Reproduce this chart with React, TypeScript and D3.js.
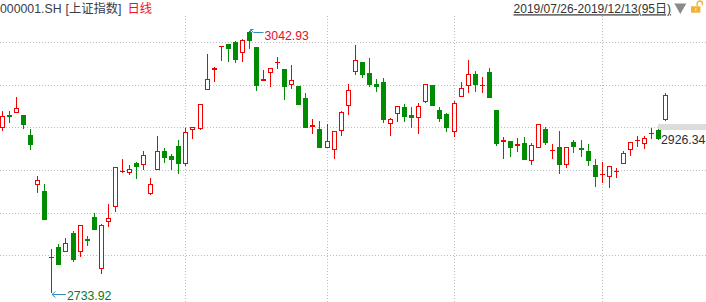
import React from "react";
import * as d3 from "d3";

const dates: string[] = [
  "2019-07-26","2019-07-29","2019-07-30","2019-07-31","2019-08-01","2019-08-02",
  "2019-08-05","2019-08-06","2019-08-07","2019-08-08","2019-08-09",
  "2019-08-12","2019-08-13","2019-08-14","2019-08-15","2019-08-16",
  "2019-08-19","2019-08-20","2019-08-21","2019-08-22","2019-08-23",
  "2019-08-26","2019-08-27","2019-08-28","2019-08-29","2019-08-30",
  "2019-09-02","2019-09-03","2019-09-04","2019-09-05","2019-09-06",
  "2019-09-09","2019-09-10","2019-09-11","2019-09-12",
  "2019-09-16","2019-09-17","2019-09-18","2019-09-19","2019-09-20",
  "2019-09-23","2019-09-24","2019-09-25","2019-09-26","2019-09-27",
  "2019-09-30",
  "2019-10-08","2019-10-09","2019-10-10","2019-10-11",
  "2019-10-14","2019-10-15","2019-10-16","2019-10-17","2019-10-18",
  "2019-10-21","2019-10-22","2019-10-23","2019-10-24","2019-10-25",
  "2019-10-28","2019-10-29","2019-10-30","2019-10-31",
  "2019-11-01",
  "2019-11-04","2019-11-05","2019-11-06","2019-11-07","2019-11-08",
  "2019-11-11","2019-11-12","2019-11-13","2019-11-14","2019-11-15",
  "2019-11-18","2019-11-19","2019-11-20","2019-11-21","2019-11-22",
  "2019-11-25","2019-11-26","2019-11-27","2019-11-28","2019-11-29",
  "2019-12-02","2019-12-03","2019-12-04","2019-12-05","2019-12-06",
  "2019-12-09","2019-12-10","2019-12-11","2019-12-12","2019-12-13",
];

const opens: number[] = [
  2928.0,2943.7,2946.5,2943.7,2920.1,2860.7,2854.0,2775.5,2787.9,2782.4,
  2804.4,2781.6,2797.3,2823.3,2761.5,2817.0,2834.7,2877.6,2874.9,2886.7,
  2885.1,2850.8,2879.2,2901.2,2895.3,2907.1,2886.3,2926.4,2927.6,2972.9,
  2997.3,3024.6,3027.6,3029.9,3017.3,3042.1,3024.0,2984.3,2993.7,3005.6,
  2998.1,2979.6,2978.0,2963.8,2930.0,2927.2,2905.2,2902.0,2924.5,2954.8,
  2994.9,3006.3,2993.3,2980.3,2982.7,2933.5,2945.3,2952.8,2943.7,2940.6,
  2959.5,2979.2,2949.6,2944.9,2924.1,2965.4,2978.4,2992.2,2978.5,2994.5,
  2949.6,2912.3,2913.0,2907.5,2910.7,2889.0,2904.4,2927.2,2902.1,2906.0,
  2885.1,2911.9,2904.8,2901.2,2884.7,2874.3,2870.1,2877.0,2886.3,2902.0,
  2914.4,2909.1,2922.3,2926.34,2938.3,
];
const highs: number[] = [
  2948.5,2948.5,2965.0,2943.7,2927.2,2871.7,2862.3,2785.1,2791.4,2798.5,
  2806.8,2813.5,2800.9,2828.0,2815.0,2838.6,2881.9,2891.8,2884.3,2887.9,
  2900.8,2869.0,2918.9,2904.8,2897.3,2914.2,2928.8,2929.2,2956.3,3015.8,
  3000.4,3025.8,3027.6,3031.1,3033.1,3042.93,3024.0,2996.9,2999.2,3012.2,
  2998.1,3002.8,2978.0,2969.7,2939.0,2936.7,2933.1,2924.5,2948.9,2979.9,
  3026.4,3006.3,3011.0,2985.9,2987.4,2939.8,2954.0,2956.7,2953.2,2957.9,
  2979.9,2979.2,2953.2,2946.1,2960.7,2982.7,3008.3,2995.7,2988.6,2999.2,
  2949.6,2917.8,2913.0,2916.6,2917.8,2910.3,2932.7,2929.6,2909.5,2924.9,
  2906.0,2914.2,2914.2,2909.5,2891.8,2888.2,2883.1,2881.2,2901.2,2911.5,
  2918.9,2918.9,2928.4,2927.2,2969.7,
];
const lows: number[] = [
  2925.3,2934.7,2946.5,2927.6,2902.4,2852.0,2819.8,2733.92,2766.6,2782.4,
  2770.6,2776.5,2789.5,2808.3,2756.0,2811.9,2829.2,2875.6,2873.3,2868.6,
  2878.8,2849.7,2879.2,2887.5,2878.8,2874.1,2883.5,2915.4,2926.4,2972.9,
  2982.7,3007.9,3006.3,3005.5,3006.7,3022.1,2972.5,2984.3,2977.2,2998.5,
  2961.8,2974.4,2955.9,2928.8,2921.7,2905.2,2905.2,2892.2,2919.4,2944.1,
  2991.0,2987.8,2977.2,2971.3,2934.7,2918.9,2935.5,2935.5,2928.4,2921.7,
  2958.3,2954.8,2935.5,2923.7,2918.1,2965.4,2970.1,2971.3,2970.1,2964.2,
  2907.5,2892.2,2894.5,2900.4,2891.0,2885.1,2904.4,2908.7,2892.2,2874.5,
  2881.6,2899.3,2894.5,2883.9,2859.1,2863.0,2857.9,2869.7,2886.3,2895.7,
  2906.0,2903.6,2915.4,2914.2,2937.1,
];
const closes: number[] = [
  2942.9,2941.0,2951.6,2932.3,2908.3,2866.6,2819.8,2776.3,2766.6,2792.2,
  2772.9,2813.5,2795.0,2808.3,2813.5,2821.7,2881.9,2878.2,2879.6,2882.7,
  2896.1,2861.9,2900.8,2893.4,2891.0,2885.9,2923.3,2929.2,2956.3,2985.9,
  2998.8,3025.2,3022.1,3009.1,3031.9,3031.5,2978.3,2985.9,2999.2,3006.1,
  2977.2,2984.7,2955.9,2928.8,2931.5,2905.2,2912.6,2924.5,2946.9,2972.9,
  3008.3,2991.0,2979.2,2977.2,2937.8,2938.6,2954.0,2941.4,2940.6,2954.0,
  2979.9,2954.8,2939.0,2928.4,2957.5,2975.2,2991.8,2979.6,2978.9,2964.2,
  2909.9,2914.2,2905.2,2909.5,2891.0,2907.9,2932.7,2911.1,2902.5,2885.1,
  2906.0,2906.3,2902.8,2889.4,2870.9,2874.6,2883.1,2877.3,2898.5,2911.5,
  2914.7,2916.6,2922.6,2915.8,2967.0,
];

const gridPrices: number[] = [3029.6, 2979.3, 2929.0, 2878.7, 2828.4, 2778.1];
const monthStarts: string[] = ["2019-09-02", "2019-10-08", "2019-11-01", "2019-12-02"];
const markPrice = 2926.34;
const titleCode = "000001.SH";
const titleName = "[上证指数]";
const titlePeriod = "日线";
const rangeLabel = "2019/07/26-2019/12/13(95日)";

const W = 706;
const H = 302;
const RED = "#f40000";
const GREEN = "#008c00";
const FONT = "'Liberation Sans', Arial, 'Noto Sans CJK SC', sans-serif";

export default function App() {
  const x = d3.scaleLinear().domain([0, dates.length - 1]).range([2, 665.2]);
  const y = d3.scaleLinear().domain([2733.92, 3042.93]).range([292.7, 31]);
  const cxOf = (i: number) => Math.round(x(i)) + 0.5;

  const hiIdx = d3.maxIndex(highs);
  const loIdx = d3.minIndex(lows);
  const fmt = d3.format(".2f");

  const candles = dates.map((d, i) => {
    const o = opens[i], c = closes[i], h = highs[i], l = lows[i];
    const up = c >= o;
    const color = up ? RED : GREEN;
    const cx = cxOf(i);
    const top = Math.round(y(Math.max(o, c)));
    const bot = Math.round(y(Math.min(o, c)));
    const yh = Math.round(y(h));
    const yl = Math.round(y(l));
    const els: React.ReactNode[] = [];
    if (yh < top) els.push(<line key="uw" x1={cx} x2={cx} y1={yh} y2={top} stroke={color} strokeWidth={1} />);
    if (yl > bot) els.push(<line key="lw" x1={cx} x2={cx} y1={bot} y2={yl} stroke={color} strokeWidth={1} />);
    if (bot - top <= 1) {
      els.push(<rect key="b" x={cx - 2.5} y={top} width={5} height={Math.max(1, bot - top)} fill={color} />);
    } else if (up) {
      els.push(<rect key="b" x={cx - 2} y={top + 0.5} width={4} height={bot - top - 1} fill="#fff" stroke={color} strokeWidth={1} />);
    } else {
      els.push(<rect key="b" x={cx - 2.5} y={top} width={5} height={bot - top} fill={color} />);
    }
    return <g key={d}>{els}</g>;
  });

  const hiX = cxOf(hiIdx);
  const hiY = Math.round(y(highs[hiIdx]));
  const loX = cxOf(loIdx);
  const loY = Math.round(y(lows[loIdx]));
  const markY = Math.round(y(markPrice));

  return (
    <svg
      width={W}
      height={H}
      style={{ position: "absolute", left: 0, top: 0, display: "block", background: "#fff" }}
      fontFamily={FONT}
    >
      <rect x={0} y={0} width={W} height={H} fill="#fff" />
      {gridPrices.map((p) => (
        <line key={p} x1={0} x2={W} y1={Math.round(y(p)) + 0.5} y2={Math.round(y(p)) + 0.5}
          stroke="#bdbdbd" strokeWidth={1} strokeDasharray="1,2" />
      ))}
      {monthStarts.map((m) => {
        const cx = cxOf(dates.indexOf(m));
        return <line key={m} x1={cx} x2={cx} y1={16} y2={H} stroke="#bdbdbd" strokeWidth={1} strokeDasharray="1,2" />;
      })}
      <rect x={658} y={markY - 6} width={W - 658} height={6} fill="#dcdcdc" />
      {candles}

      {/* high annotation */}
      <path d={`M${hiX + 14},${hiY + 1.5} H${hiX + 4} L${hiX + 1},${hiY - 1.5}`} fill="none" stroke="#2e8fbf" strokeWidth={1} />
      <path d={`M${hiX + 1},${hiY + 1.5} V${hiY - 1.5} H${hiX + 4}`} fill="none" stroke="#2e8fbf" strokeWidth={1} />
      <text x={hiX + 15} y={hiY + 9} fontSize={12.3} fill="#e0102a">{fmt(highs[hiIdx])}</text>

      {/* low annotation */}
      <path d={`M${loX + 14.5},${loY + 1.5} H${loX + 0.5} M${loX + 0.5},${loY + 1.5} l3.5,-3 M${loX + 0.5},${loY + 1.5} l3.5,3`}
        fill="none" stroke="#2e8fbf" strokeWidth={1} />
      <text x={loX + 15.5} y={loY + 6.5} fontSize={12.3} fill="#0a7a20">{fmt(lows[loIdx])}</text>

      {/* last mark label */}
      <text x={661} y={markY + 13.5} fontSize={12.3} fill="#2b2b3a">{fmt(markPrice)}</text>

      {/* header */}
      <text x={0} y={13.3} fontSize={12.3} fill="#3a3a4a">{titleCode}</text>
      <text x={65.5} y={13.3} fontSize={12.3} fill="#3a3a4a">{titleName}</text>
      <text x={127.5} y={13.3} fontSize={12.3} fill="#f01030">{titlePeriod}</text>
      <text x={671} y={13.3} fontSize={12} fill="#333" textAnchor="end" textDecoration="underline">{rangeLabel}</text>
      <polygon points="674.3,3.5 686.3,3.5 680.3,14" fill="#8a8a8a" />
      <path d="M697.2,6.3 V3.6 A2.6,2.6 0 0 1 702.4,3.6 V5.2" fill="none" stroke="#f2b234" strokeWidth={1.4} />
      <rect x={691} y={6.3} width={9.4} height={6.4} fill="#f2b234" />
      <rect x={695.3} y={8.2} width={1} height={2.6} fill="#fff3d0" />
    </svg>
  );
}
